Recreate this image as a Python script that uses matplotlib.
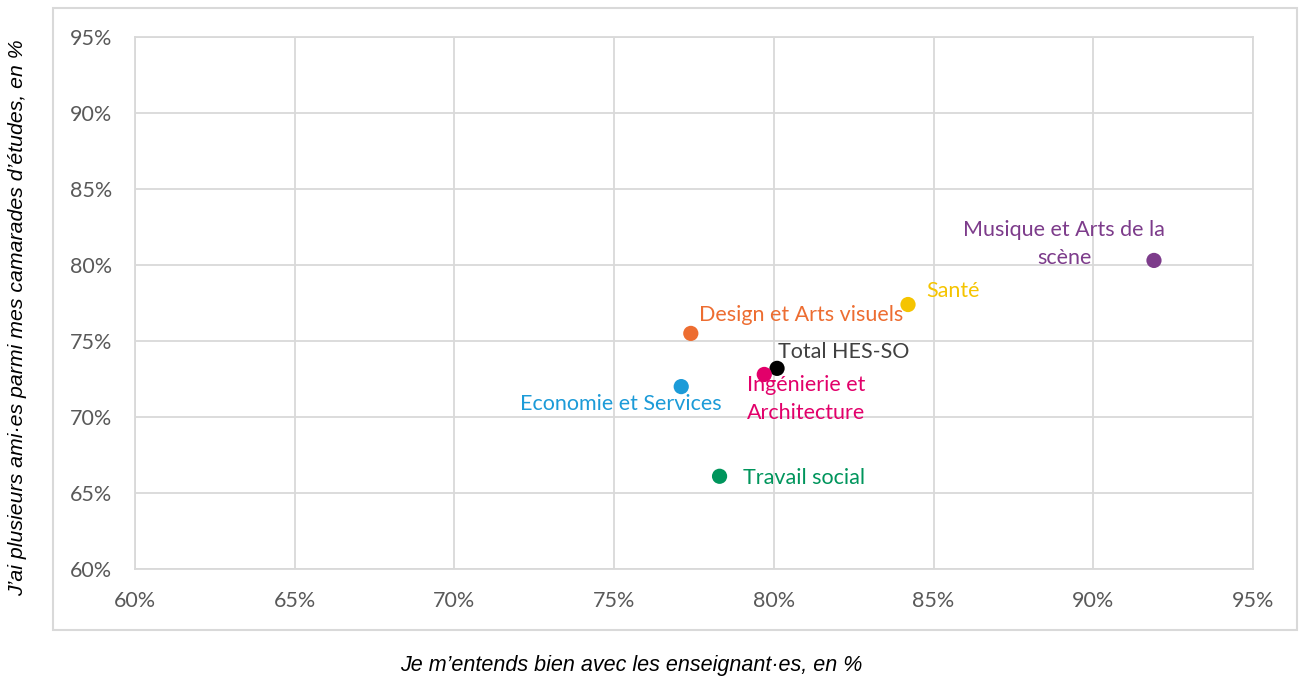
import matplotlib
matplotlib.use("Agg")
import matplotlib.pyplot as plt
from matplotlib.patches import Rectangle
from matplotlib.ticker import FuncFormatter

categories = ["Musique et Arts de la\nscène", "Santé", "Design et Arts visuels", "Total HES-SO",
              "Ingénierie et\nArchitecture", "Economie et Services", "Travail social"]
x_teachers = [91.9, 84.2, 77.4, 80.1, 79.7, 77.1, 78.3]
y_friends = [80.3, 77.4, 75.5, 73.2, 72.8, 72.0, 66.1]
colors = ["#7D3C8B", "#F5C400", "#ED6D31", "#000000", "#E2006A", "#1C9BD8", "#00955C"]
text_colors = ["#7D3C8B", "#F5C400", "#ED6D31", "#404040", "#E2006A", "#1C9BD8", "#00955C"]
# label offsets in pixels and alignment
offsets = [(-90, 16, "center"), (18, 14, "left"), (8, 18, "left"), (1, 16, "left"),
           (42, -25, "center"), (40, -17, "right"), (23, -2, "left")]
xticks = [60, 65, 70, 75, 80, 85, 90, 95]
yticks = [60, 65, 70, 75, 80, 85, 90, 95]

plt.rcParams['font.family'] = ['Lato', 'DejaVu Sans']

fig = plt.figure(figsize=(13.05, 6.79), dpi=100)
fig.patch.set_facecolor("white")

# outer chart border
fig.patches.append(Rectangle((53/1305, 1-630/679), (1297-53)/1305, (630-8)/679,
                             transform=fig.transFigure, fill=False, edgecolor="#D9D9D9",
                             linewidth=1.5, zorder=0))

ax = fig.add_axes([135/1305, 1-569/679, (1253-135)/1305, (569-37)/679])
ax.set_xlim(60, 95)
ax.set_ylim(60, 95)
ax.set_xticks(xticks)
ax.set_yticks(yticks)
fmt = FuncFormatter(lambda v, p: f"{int(round(v))}%")
ax.xaxis.set_major_formatter(fmt)
ax.yaxis.set_major_formatter(fmt)
ax.grid(True, color="#D9D9D9", linewidth=1.3)
ax.set_axisbelow(True)
for s in ax.spines.values():
    s.set_color("#D9D9D9")
    s.set_linewidth(1.3)
ax.tick_params(length=0, labelsize=15.5, colors="#595959")
ax.tick_params(axis="y", pad=16.5)
ax.tick_params(axis="x", pad=16)

ax.scatter(x_teachers, y_friends, s=120, c=colors, zorder=3, edgecolors="none")

for i, lab in enumerate(categories):
    dx, dy, ha = offsets[i]
    ax.annotate(lab, (x_teachers[i], y_friends[i]), xytext=(dx, dy), textcoords="offset pixels",
                ha=ha, va="center", fontsize=15.5, color=text_colors[i], linespacing=1.5,
                multialignment="center")

fig.text(631/1305, 1-665/679, "Je m\u2019entends bien avec les enseignant\u00b7es, en %",
         ha="center", va="center", fontsize=15.5, style="italic", family=["Liberation Sans", "DejaVu Sans"])
fig.text(18/1305, 1-318/679, "J\u2019ai plusieurs ami\u00b7es parmi mes camarades d\u2019études, en %",
         ha="center", va="center", fontsize=15.3, style="italic", rotation=90,
         family=["Liberation Sans", "DejaVu Sans"])

fig.savefig("out.png", dpi=100)
